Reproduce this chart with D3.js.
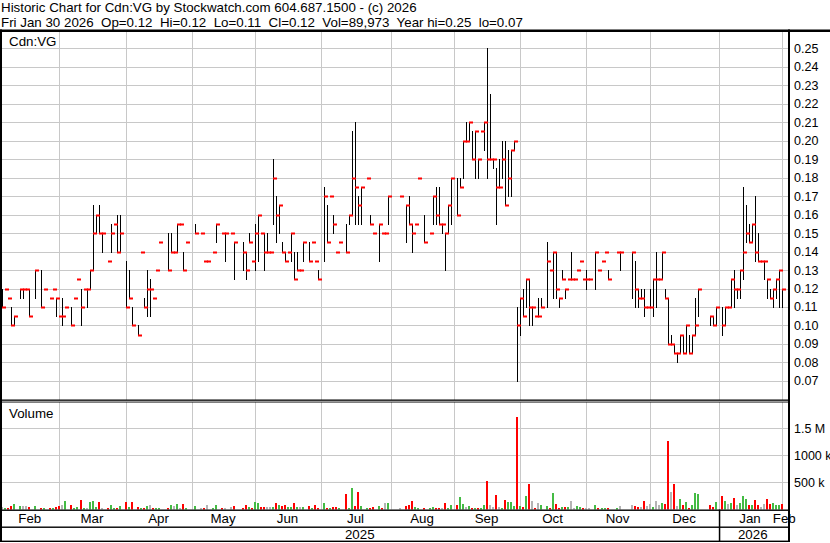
<!DOCTYPE html>
<html><head><meta charset="utf-8">
<script src="https://cdn.jsdelivr.net/npm/d3@7"></script>
<style>
html,body{margin:0;padding:0;background:#fff;}
svg{display:block;font-family:"Liberation Sans",Arial,sans-serif;}
</style></head><body>
<svg id="c" width="830" height="543"></svg>
<script>
// ---- data (one entry per bar slot, null = no bar) ----
const high = [
.12,.12,.115,.11,.105,null,.12,.12,.12,.12,
null,.13,null,.13,.12,null,.115,.12,.115,.105,
.115,.11,null,.11,.115,.125,.12,.12,.12,.13,
.165,.16,.165,.15,null,.135,.155,.155,.16,.16,
null,.135,.13,.11,null,.10,.14,.115,.13,.125,
.115,.13,.145,null,null,.15,.15,.14,.155,.155,
.14,.145,null,null,.155,null,.15,.135,.135,null,
.14,.155,null,.15,.15,null,.15,.145,null,null,
.145,.14,.15,.135,.155,.16,.15,.15,.15,.14,
.19,.17,.165,.145,.14,.14,.15,.14,.14,.13,
.145,null,.145,.145,.135,.13,null,.175,.165,.17,
.16,.14,.145,null,.155,.16,.205,.21,.17,.175,
null,.18,.16,.15,null,.155,.15,.15,.17,null,
null,null,.17,null,.165,.17,.155,.155,.18,null,
.16,null,.15,.17,.175,.175,.155,.15,.165,.18,
null,.18,.18,.20,.21,.21,.205,.205,.19,.205,
.21,.25,.225,.19,.185,.19,.20,.20,.195,.195,
.20,.11,.115,.12,.125,.125,.11,.105,.115,.115,
null,.145,.13,.14,.14,.115,.13,.12,.125,.14,
.125,.13,.135,.125,.13,.125,null,.14,.13,.135,
.14,.13,null,null,.14,.14,null,null,null,.14,
.135,.12,.12,.12,.11,.12,.125,.14,.125,.14,
.12,.115,.095,.09,.085,.095,.095,.10,.095,.095,
.115,.12,null,null,null,.105,.105,.11,null,.11,
.11,.11,.125,.13,.12,.13,.175,.165,.155,.155,
.17,.15,.135,.135,.125,.12,.12,.125,.13,.12];
const low = [
.11,.12,.115,.10,.10,null,.115,.115,.12,.105,
null,.115,null,.11,.12,null,.115,.12,.105,.105,
.10,.11,null,.10,.115,.125,.10,.12,.11,.12,
.13,.15,.15,.14,null,.135,.14,.155,.14,.14,
null,.11,.115,.10,null,.095,.14,.11,.105,.105,
.115,.13,.145,null,null,.13,.14,.14,.14,.155,
.13,.145,null,null,.15,null,.15,.135,.135,null,
.14,.145,null,.15,.135,null,.15,.125,null,null,
.13,.125,.145,.135,.13,.135,.15,.13,.14,.14,
.155,.145,.15,.14,.135,.14,.135,.125,.13,.13,
.135,null,.135,.145,.135,.125,null,.135,.145,.17,
.15,.14,.145,null,.14,.155,.16,.155,.155,.155,
null,.18,.155,.15,null,.135,.15,.15,.155,null,
null,null,.17,null,.145,.155,.14,.155,.18,null,
.145,null,.15,.155,.155,.155,.15,.13,.15,.155,
null,.16,.175,.18,.20,.20,.19,.18,.18,.205,
.195,.18,.19,.185,.155,.175,.18,.165,.17,.17,
.195,.07,.095,.105,.11,.10,.10,.105,.105,.11,
null,.11,.13,.115,.115,.11,.125,.115,.125,.125,
.125,.13,.135,.125,.12,.125,null,.12,.13,.135,
.14,.125,null,null,.14,.13,null,null,null,.115,
.11,.11,.115,.105,.11,.11,.105,.11,.125,.125,
.115,.09,.09,.085,.08,.085,.085,.085,.085,.085,
.095,.105,null,null,null,.10,.10,.10,null,.095,
.10,.11,.11,.11,.115,.115,.125,.145,.145,.145,
.135,.135,.135,.125,.115,.115,.11,.115,.11,.11];
const close = [
.11,.12,.115,.10,.105,null,.12,.12,.12,.105,
null,.13,null,.11,.12,null,.115,.12,.115,.105,
.105,.11,null,.10,.115,.125,.11,.12,.12,.13,
.15,.16,.15,.15,null,.135,.15,.155,.14,.15,
null,.11,.115,.10,null,.095,.14,.11,.12,.12,
.115,.13,.145,null,null,.13,.14,.14,.155,.155,
.13,.145,null,null,.15,null,.15,.135,.135,null,
.14,.155,null,.15,.15,null,.15,.145,null,null,
.14,.13,.145,.135,.15,.16,.15,.14,.14,.14,
.18,.16,.165,.14,.135,.14,.15,.125,.13,.13,
.145,null,.135,.145,.135,.125,null,.17,.145,.17,
.155,.14,.145,null,.14,.16,.18,.175,.165,.175,
null,.18,.155,.15,null,.155,.15,.15,.17,null,
null,null,.17,null,.165,.155,.15,.155,.18,null,
.145,null,.15,.17,.16,.155,.155,.15,.165,.18,
null,.16,.175,.20,.20,.21,.19,.205,.19,.205,
.21,.19,.19,.19,.175,.175,.19,.165,.18,.195,
.20,.10,.115,.105,.125,.11,.11,.105,.105,.11,
null,.135,.13,.14,.12,.115,.125,.12,.125,.125,
.125,.13,.135,.125,.125,.125,null,.14,.13,.135,
.14,.125,null,null,.14,.14,null,null,null,.14,
.12,.115,.115,.11,.11,.11,.125,.125,.125,.14,
.115,.09,.09,.085,.085,.095,.085,.10,.085,.095,
.10,.12,null,null,null,.105,.10,.11,null,.10,
.11,.11,.125,.12,.12,.13,.14,.15,.145,.155,
.14,.135,.135,.135,.125,.115,.12,.125,.13,.12];
// volume in thousands of shares
const volume = [
35,20,30,60,100,null,60,65,55,45,
null,60,null,25,20,null,25,25,50,60,
85,155,null,80,25,40,174,25,30,136,
150,50,136,20,null,25,80,25,25,62,
null,136,50,136,null,35,25,25,62,80,
25,25,25,null,null,25,80,55,100,25,
100,25,null,null,62,null,25,25,80,null,
25,80,null,25,25,null,40,62,null,null,
25,80,45,25,136,124,45,45,45,45,
45,118,80,62,80,45,45,118,45,45,
45,null,62,25,80,25,null,118,25,25,
45,45,25,null,285,25,397,62,322,62,
null,25,25,45,null,62,25,118,118,null,
null,null,25,null,62,80,155,45,25,null,
25,null,25,45,25,25,25,118,25,80,
null,80,230,100,45,62,25,25,25,25,
80,527,80,45,266,45,25,174,136,136,
62,1715,62,45,248,471,155,20,118,80,
null,62,25,304,100,25,45,45,45,155,
25,62,45,25,25,25,null,80,25,25,
25,25,null,null,25,62,null,null,null,80,
62,45,45,155,62,100,45,155,80,118,
100,1256,322,471,62,192,80,136,25,80,
304,285,null,null,null,80,45,136,null,248,
155,100,118,211,80,118,248,192,80,80,
174,80,45,100,192,100,118,80,80,90];

const priceTicks = [0.07,0.08,0.09,0.10,0.11,0.12,0.13,0.14,0.15,0.16,0.17,0.18,0.19,0.20,0.21,0.22,0.23,0.24,0.25];
const volumeTicks = [500,1000,1500];
const volumeTickLabels = ["500 k","1000 k","1.5 M"];
const monthLabels = ["Feb","Mar","Apr","May","Jun","Jul","Aug","Sep","Oct","Nov","Dec","Jan","Feb"];
const monthBreaks = [19,41,63,84,106,129,150,172,194,215,238,259]; // slot where Mar..Feb begin
const yearLabels = ["2025","2026"];
const yearBreakMonth = 11; // index into monthLabels where 2026 starts
const header1 = "Historic Chart for Cdn:VG by Stockwatch.com 604.687.1500 - (c) 2026";
const header2 = "Fri Jan 30 2026  Op=0.12  Hi=0.12  Lo=0.11  Cl=0.12  Vol=89,973  Year hi=0.25  lo=0.07";
const symbol = "Cdn:VG";

// ---- layout ----
const L = 2, R = 788, priceTop = 32, priceBot = 400, volTop = 402, volBot = 509.5;
const monthRowBot = 526.5, yearRowBot = 541;
const gridColor = "#c8c8c8";
const FONT = "13.33px";

const svg = d3.select("#c");
const n = close.length;
const x = d3.scaleLinear().domain([0, n - 1]).range([2.7, 782.7]);
const y = d3.scaleLinear().domain([0.07, 0.25]).range([380.9, 48.3]);
const yv = d3.scaleLinear().domain([0, 1500]).range([509.2, 428.3]);
const px = i => Math.floor(x(i));

// header
svg.append("text").attr("x", 1).attr("y", 12).attr("font-size", FONT)
  .style("white-space","pre").text(header1);
svg.append("text").attr("x", 1).attr("y", 26.5).attr("font-size", FONT)
  .style("white-space","pre").text(header2);

// gridlines: horizontal price
svg.append("g").selectAll("line").data(priceTicks).join("line")
  .attr("x1", L).attr("x2", R)
  .attr("y1", d => Math.round(y(d)) + 0.5).attr("y2", d => Math.round(y(d)) + 0.5)
  .attr("stroke", gridColor).attr("stroke-width", 1);
// horizontal volume
svg.append("g").selectAll("line").data(volumeTicks).join("line")
  .attr("x1", L).attr("x2", R)
  .attr("y1", d => Math.round(yv(d)) + 0.5).attr("y2", d => Math.round(yv(d)) + 0.5)
  .attr("stroke", gridColor).attr("stroke-width", 1);
// vertical month lines
const gridX = monthBreaks.map(b => Math.floor(x(b)) + 0.5);
const vg = svg.append("g");
vg.selectAll("line.p").data(gridX).join("line").attr("class","p")
  .attr("x1", d => d).attr("x2", d => d).attr("y1", priceTop).attr("y2", priceBot)
  .attr("stroke", gridColor);
vg.selectAll("line.v").data(gridX).join("line").attr("class","v")
  .attr("x1", d => d).attr("x2", d => d).attr("y1", volTop).attr("y2", volBot)
  .attr("stroke", gridColor);

// price bars
const idx = d3.range(n).filter(i => close[i] != null);
const bars = svg.append("g");
bars.selectAll("rect.hl").data(idx.filter(i => high[i] > low[i])).join("rect").attr("class","hl")
  .attr("x", i => px(i)).attr("width", 1)
  .attr("y", i => Math.round(y(high[i])))
  .attr("height", i => Math.round(y(low[i])) - Math.round(y(high[i])) + 1)
  .attr("fill", "#000");
bars.selectAll("rect.cl").data(idx).join("rect").attr("class","cl")
  .attr("x", i => px(i)).attr("width", 4)
  .attr("y", i => Math.round(y(close[i])) - 0.5).attr("height", 2)
  .attr("fill", "#ff0000");

// volume bars
let prev = null;
const vcol = idx.map(i => { const c = close[i]; let col = "#b4b4b4";
  if (prev != null) col = c > prev + 1e-9 ? "#44bb44" : (c < prev - 1e-9 ? "#ff0000" : "#b4b4b4");
  prev = c; return {i, col}; });
svg.append("g").selectAll("rect").data(vcol.filter(d => volume[d.i] != null)).join("rect")
  .attr("x", d => px(d.i) - 1).attr("width", 2)
  .attr("y", d => Math.round(yv(volume[d.i])))
  .attr("height", d => volBot - Math.round(yv(volume[d.i])))
  .attr("fill", d => d.col);

// frame
const frame = svg.append("g").attr("fill", "#000");
frame.append("rect").attr("x", 0).attr("y", 29.5).attr("width", 830).attr("height", 2.5);
frame.append("rect").attr("x", 0).attr("y", 29.5).attr("width", 2).attr("height", yearRowBot + 1 - 29.5);
frame.append("rect").attr("x", R).attr("y", 29.5).attr("width", 2).attr("height", yearRowBot + 1 - 29.5);
frame.append("rect").attr("x", 0).attr("y", priceBot - 0.5).attr("width", R + 2).attr("height", 1.3);
frame.append("rect").attr("x", 0).attr("y", volTop - 0.4).attr("width", R + 2).attr("height", 0.9);
frame.append("rect").attr("x", 0).attr("y", volBot).attr("width", R + 2).attr("height", 1.4);
frame.append("rect").attr("x", 0).attr("y", monthRowBot).attr("width", R + 2).attr("height", 1.4);
frame.append("rect").attr("x", 0).attr("y", yearRowBot - 0.4).attr("width", R + 2).attr("height", 1.4);
const yearSepX = gridX[yearBreakMonth - 1];
frame.append("rect").attr("x", yearSepX - 0.7).attr("y", volBot).attr("width", 1.5).attr("height", yearRowBot - volBot);

// labels in panels
svg.append("text").attr("x", 9).attr("y", 46).attr("font-size", FONT).text(symbol);
svg.append("text").attr("x", 9).attr("y", 418).attr("font-size", FONT).text("Volume");

// right axes
svg.append("g").selectAll("text").data(priceTicks).join("text")
  .attr("x", 794).attr("y", d => y(d)).attr("dy", "0.36em")
  .attr("font-size", "12.5px").text(d => d.toFixed(2));
svg.append("g").selectAll("text").data(volumeTicks).join("text")
  .attr("x", 794).attr("y", d => yv(d)).attr("dy", "0.36em")
  .attr("font-size", "12.5px").text((d, k) => volumeTickLabels[k]);

// month labels
const bounds = [L].concat(gridX).concat([R]);
svg.append("g").selectAll("text").data(monthLabels).join("text")
  .attr("x", (d, k) => (bounds[k] + bounds[k + 1]) / 2 - 1)
  .attr("y", 523).attr("text-anchor", "middle").attr("font-size", FONT).text(d => d);
// year labels
const yb = [L, yearSepX, R];
svg.append("g").selectAll("text").data(yearLabels).join("text")
  .attr("x", (d, k) => (yb[k] + yb[k + 1]) / 2 - 1)
  .attr("y", 539).attr("text-anchor", "middle").attr("font-size", FONT).text(d => d);
</script>
</body></html>
